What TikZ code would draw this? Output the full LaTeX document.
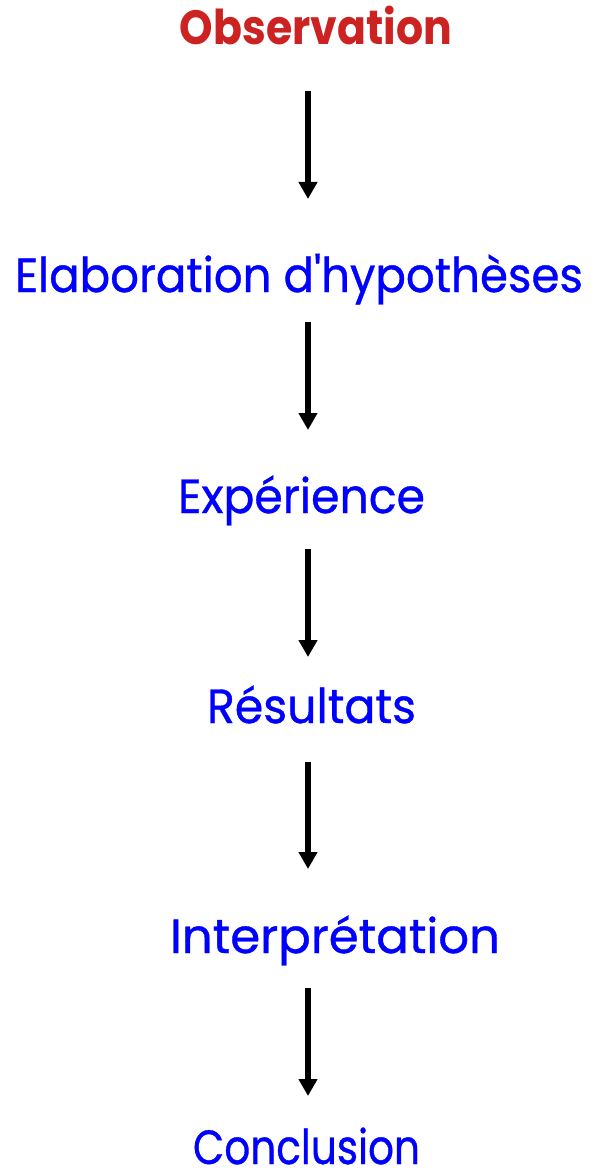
\documentclass[tikz,border=0pt]{standalone}
\usepackage{fontspec}
\setmainfont{Poppins}
\newfontfamily\stepfont[FakeBold=0.8]{Poppins}
\usetikzlibrary{arrows.meta}
\definecolor{obsred}{RGB}{204,34,34}
\definecolor{stepblue}{RGB}{0,0,255}
\newcommand{\fitw}[2]{\resizebox{#1}{\height}{#2}}
\begin{document}
\begin{tikzpicture}[x=1pt,y=1pt,
  lbl/.style={anchor=base,inner sep=0pt,font=\fontsize{48}{52}\stepfont,text=stepblue},
  obslbl/.style={lbl,font=\fontsize{48}{52}\selectfont\bfseries,text=obsred},
  arr/.style={line width=6pt,-{Triangle[width=18pt,length=17pt]}}]
\useasboundingbox[fill=white] (0,0) rectangle (593,-1174);
\coordinate (ax) at (308,0);
\node[obslbl] (obs)  at (316,-45)    {\fitw{272pt}{Observation}};
\node[lbl]    (elab) at (299,-292)   {\fitw{568pt}{Elaboration d\textquotesingle hypothèses}};
\node[lbl]    (exp)  at (301.5,-513) {\fitw{247pt}{Expérience}};
\node[lbl]    (res)  at (311.5,-723) {\fitw{209pt}{Résultats}};
\node[lbl]    (int)  at (335,-953)   {\fitw{330pt}{Interprétation}};
\node[lbl]    (con)  at (306.5,-1164){\fitw{227pt}{Conclusion}};
\draw[arr] ([yshift=-46pt]obs.base -| ax) -- ([yshift=93pt]elab.base -| ax);
\draw[arr] ([yshift=-30pt]elab.base -| ax) -- ([yshift=83pt]exp.base -| ax);
\draw[arr] ([yshift=-36pt]exp.base -| ax) -- ([yshift=66pt]res.base -| ax);
\draw[arr] ([yshift=-39pt]res.base -| ax) -- ([yshift=84pt]int.base -| ax);
\draw[arr] ([yshift=-35pt]int.base -| ax) -- ([yshift=68pt]con.base -| ax);
\end{tikzpicture}
\end{document}
